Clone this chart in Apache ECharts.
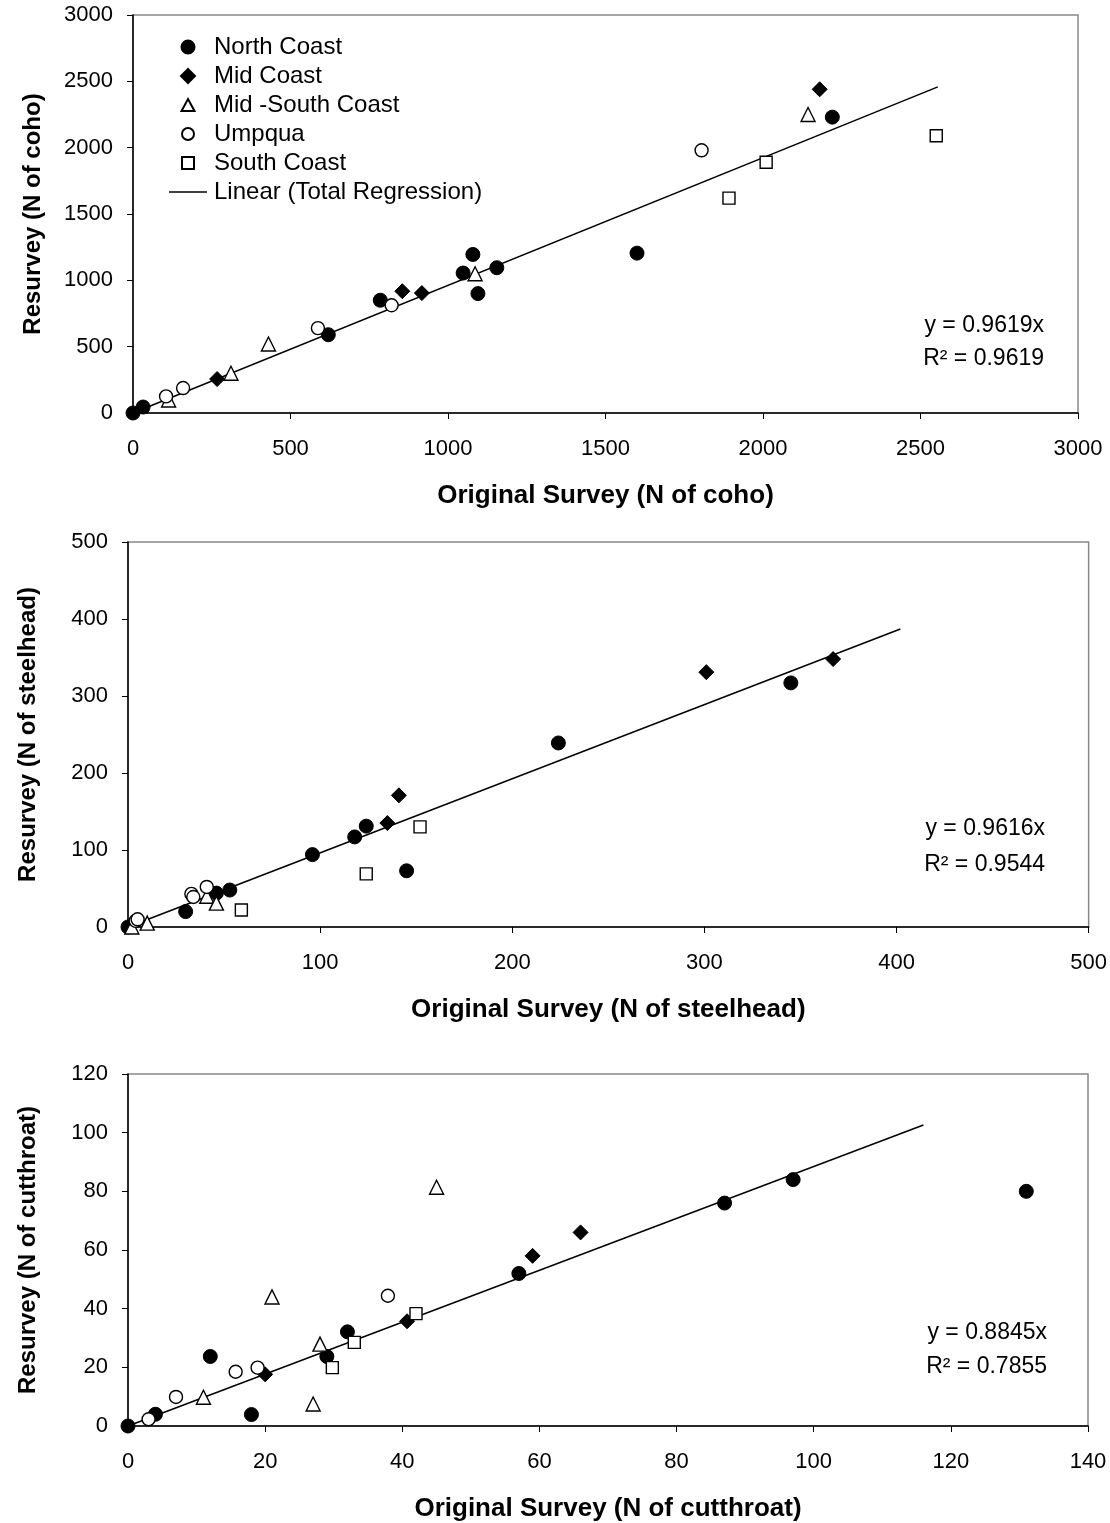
<!DOCTYPE html>
<html><head><meta charset="utf-8">
<script src="https://cdn.jsdelivr.net/npm/echarts@6/dist/echarts.min.js"></script>
<style>html,body{margin:0;padding:0;background:#fff}#c{width:1110px;height:1523px}</style>
</head><body><div id="c"></div>
<script>
const regionNames = ['North Coast', 'Mid Coast', 'Mid -South Coast', 'Umpqua', 'South Coast'];
const lineName = 'Linear (Total Regression)';

// Panel 1: coho
const cohoNorth = [[0,0],[32,45],[620,590],[785,850],[1048,1055],[1079,1195],[1095,900],[1155,1095],[1600,1205],[2220,2230]];
const cohoMid = [[267,256],[855,918],[917,904],[2180,2440]];
const cohoMidSouth = [[113,98],[311,300],[430,520],[1086,1050],[2143,2250]];
const cohoUmpqua = [[105,125],[159,188],[587,640],[821,812],[1805,1980]];
const cohoSouth = [[1892,1620],[2010,1890],[2550,2090]];
const cohoLine = [[0,0],[2555,2458]];

// Panel 2: steelhead
const stNorth = [[0,0],[30,20],[46,44],[53,48],[96,94],[118,117],[124,131],[145,73],[224,239],[345,317]];
const stMid = [[135,135],[141,171],[301,331],[367,348]];
const stMidSouth = [[2,0],[10,5],[41,40],[46,31]];
const stUmpqua = [[4,8],[5,10],[33,43],[34,39],[41,52]];
const stSouth = [[59,22],[124,69],[152,130]];
const stLine = [[0,0],[402,387]];

// Panel 3: cutthroat
const ctNorth = [[0,0],[4,4],[12,23.7],[18,3.9],[29,23.7],[32,32.1],[57,52],[87,76],[97,84],[131,80]];
const ctMid = [[20,17.6],[40.7,35.7],[59,58],[66,66]];
const ctMidSouth = [[11,9.8],[21,44],[27,7.5],[28,27.9],[45,81.4]];
const ctUmpqua = [[3,2.3],[7,9.9],[15.7,18.5],[18.9,19.9],[37.9,44.4]];
const ctSouth = [[29.8,19.9],[33,28.5],[42,38.3]];
const ctLine = [[0,0],[116,102.6]];

const xMax = [3000, 500, 140];
const xInterval = [500, 100, 20];
const yMax = [3000, 500, 120];
const yInterval = [500, 100, 20];
const xTitles = ['Original Survey (N of coho)', 'Original Survey (N of steelhead)', 'Original Survey (N of cutthroat)'];
const yTitles = ['Resurvey (N of coho)', 'Resurvey (N of steelhead)', 'Resurvey (N of cutthroat)'];
const eqLines = [['y = 0.9619x', 'R² = 0.9619'], ['y = 0.9616x', 'R² = 0.9544'], ['y = 0.8845x', 'R² = 0.7855']];

const panels = [
  [cohoNorth, cohoMid, cohoMidSouth, cohoUmpqua, cohoSouth, cohoLine],
  [stNorth, stMid, stMidSouth, stUmpqua, stSouth, stLine],
  [ctNorth, ctMid, ctMidSouth, ctUmpqua, ctSouth, ctLine]
];

const FONT = 'Liberation Sans, Arial, sans-serif';
const solid = {color: '#000', borderColor: '#000', borderWidth: 1, opacity: 1};
const open = {color: '#fff', borderColor: '#000', borderWidth: 1.4, opacity: 1};
const markerStyles = [
  {symbol: 'circle', symbolSize: 14, itemStyle: solid},
  {symbol: 'diamond', symbolSize: 15, itemStyle: solid},
  {symbol: 'triangle', symbolSize: 14, itemStyle: open},
  {symbol: 'circle', symbolSize: 13, itemStyle: open},
  {symbol: 'rect', symbolSize: 12, itemStyle: open}
];
// legend icons drawn in a fixed 38x14 box so they keep their shape
const legendIcons = [
  'path://M0,0M38,14M25.5,7A6.5,6.5,0,1,1,12.5,7A6.5,6.5,0,1,1,25.5,7Z',
  'path://M0,0M38,14M19,0L26,7L19,14L12,7Z',
  'path://M0,0M38,14M19,1L25.5,13L12.5,13Z',
  'path://M0,0M38,14M25,7A6,6,0,1,1,13,7A6,6,0,1,1,25,7Z',
  'path://M0,0M38,14M13,1L25,1L25,13L13,13Z',
  'path://M0,0M38,14M0,6.3L38,6.3L38,7.7L0,7.7Z'
];

const grids = [
  {left: 133, top: 15, width: 945, height: 398},
  {left: 128, top: 542, width: 972, height: 385},
  {left: 128, top: 1074, width: 960, height: 353}
].map(g => Object.assign(g, {show: true, borderColor: '#888', borderWidth: 1.5, backgroundColor: '#fff'}));

const xAxes = [], yAxes = [], series = [];
panels.forEach((p, i) => {
  xAxes.push({
    type: 'value', gridIndex: i, min: 0, max: xMax[i], interval: xInterval[i],
    axisLine: {show: true, onZero: false, lineStyle: {color: '#000', width: 1.5}},
    axisTick: {show: true, length: 6, lineStyle: {color: '#000', width: 1}},
    splitLine: {show: false},
    axisLabel: {color: '#000', fontSize: 22, fontFamily: FONT, margin: 25, formatter: v => String(v)},
    name: xTitles[i], nameLocation: 'middle', nameGap: 70,
    nameTextStyle: {color: '#000', fontSize: 26, fontWeight: 'bold', fontFamily: FONT}
  });
  yAxes.push({
    type: 'value', gridIndex: i, min: 0, max: yMax[i], interval: yInterval[i],
    axisLine: {show: true, onZero: false, lineStyle: {color: '#000', width: 1.5}},
    axisTick: {show: true, length: 6, lineStyle: {color: '#000', width: 1}},
    splitLine: {show: false},
    axisLabel: {color: '#000', fontSize: 22, fontFamily: FONT, margin: 20, formatter: v => String(v)},
    name: yTitles[i], nameLocation: 'middle', nameGap: 88,
    nameTextStyle: {color: '#000', fontSize: 24, fontWeight: 'bold', fontFamily: FONT}
  });
  p.slice(0, 5).forEach((d, k) => {
    series.push({
      type: 'scatter', name: regionNames[k], xAxisIndex: i, yAxisIndex: i, data: d, z: 3,
      symbol: markerStyles[k].symbol, symbolSize: markerStyles[k].symbolSize,
      itemStyle: Object.assign({}, markerStyles[k].itemStyle),
      emphasis: {disabled: true}
    });
  });
  series.push({
    type: 'line', name: lineName, xAxisIndex: i, yAxisIndex: i, data: p[5],
    symbol: 'none', lineStyle: {color: '#000', width: 1.5}, itemStyle: {color: '#000'}, z: 2, silent: true
  });
});

const eqRight = [1044, 1045, 1047];
const eqY = [[327, 360], [830, 866], [1334, 1368]];
const graphics = [];
eqLines.forEach((ls, i) => {
  ls.forEach((t, j) => {
    graphics.push({type: 'text', right: 1110 - eqRight[i], top: eqY[i][j] - 13,
      style: {text: t, fill: '#000', font: '23px ' + FONT}});
  });
});

const legendNames = regionNames.concat([lineName]);
const chart = echarts.init(document.getElementById('c'), null, {renderer: 'canvas'});
chart.setOption({
  backgroundColor: '#fff',
  animation: false,
  grid: grids,
  xAxis: xAxes,
  yAxis: yAxes,
  series: series,
  legend: {
    orient: 'vertical', left: 163, top: 30, itemWidth: 38, itemHeight: 14, itemGap: 5,
    textStyle: {color: '#000', fontSize: 24, fontFamily: FONT, padding: [0, 0, 0, 2]},
    data: legendNames.map((n, k) => ({name: n, icon: legendIcons[k]}))
  },
  graphic: graphics
});
</script></body></html>
